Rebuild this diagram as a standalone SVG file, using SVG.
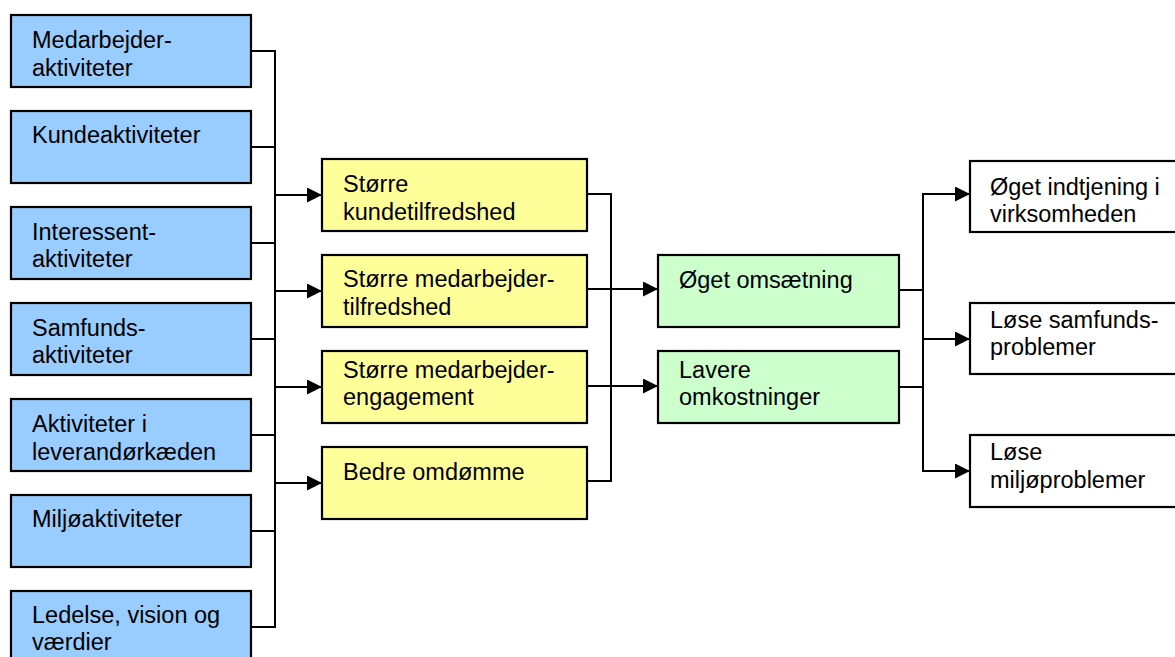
<svg xmlns="http://www.w3.org/2000/svg" width="1175" height="657" viewBox="0 0 1175 657">
<defs>
<style>
.box{stroke:#000;stroke-width:2.2}
.blue{fill:#99CCFF}
.yellow{fill:#FFFF99}
.green{fill:#CCFFCC}
.white{fill:#FFFFFF}
.t{font-family:"Liberation Sans",Arial,sans-serif;font-size:23.5px;fill:#000}
.c{fill:none;stroke:#000;stroke-width:2}
.a{fill:none;stroke:#000;stroke-width:2;marker-end:url(#ah)}
</style>
<marker id="ah" markerUnits="userSpaceOnUse" markerWidth="16" markerHeight="16" refX="15" refY="7.5" orient="auto">
<path d="M0,0 L15,7.5 L0,15 z" fill="#000"/>
</marker>
</defs>
<rect width="1175" height="657" fill="#fff"/>

<g id="connectors">
<path class="c" d="M251,51H275M251,147H275M251,243H275M251,339H275M251,435H275M251,531H275M251,627H275M275,50V628"/>
<path class="a" d="M275,195H322"/>
<path class="a" d="M275,291H322"/>
<path class="a" d="M275,387H322"/>
<path class="a" d="M275,483H322"/>
<path class="c" d="M587,194H611M587,481H611M611,193V482"/>
<path class="a" d="M587,289H658"/>
<path class="a" d="M587,386H658"/>
<path class="c" d="M899,290H923M899,387H923M923,193V472"/>
<path class="a" d="M923,194H970"/>
<path class="a" d="M923,339H970"/>
<path class="a" d="M923,471H970"/>
</g>

<g id="n-medarbejderaktiviteter"><rect class="box blue" x="11" y="15" width="240" height="72"/><text class="t" x="32" y="48">Medarbejder-</text><text class="t" x="32" y="76">aktiviteter</text></g>
<g id="n-kundeaktiviteter"><rect class="box blue" x="11" y="111" width="240" height="72"/><text class="t" x="32" y="143">Kundeaktiviteter</text></g>
<g id="n-interessentaktiviteter"><rect class="box blue" x="11" y="207" width="240" height="72"/><text class="t" x="32" y="240">Interessent-</text><text class="t" x="32" y="267">aktiviteter</text></g>
<g id="n-samfundsaktiviteter"><rect class="box blue" x="11" y="303" width="240" height="72"/><text class="t" x="32" y="336">Samfunds-</text><text class="t" x="32" y="363">aktiviteter</text></g>
<g id="n-leverandoer"><rect class="box blue" x="11" y="399" width="240" height="72"/><text class="t" x="32" y="432">Aktiviteter i</text><text class="t" x="32" y="460">leverandørkæden</text></g>
<g id="n-miljoeaktiviteter"><rect class="box blue" x="11" y="495" width="240" height="72"/><text class="t" x="32" y="527">Miljøaktiviteter</text></g>
<g id="n-ledelse"><rect class="box blue" x="11" y="591" width="240" height="72"/><text class="t" x="32" y="623">Ledelse, vision og</text><text class="t" x="32" y="650">værdier</text></g>

<g id="n-kundetilfredshed"><rect class="box yellow" x="322" y="159" width="265" height="72"/><text class="t" x="343" y="192">Større</text><text class="t" x="343" y="219.5">kundetilfredshed</text></g>
<g id="n-medarbejdertilfredshed"><rect class="box yellow" x="322" y="255" width="265" height="72"/><text class="t" x="343" y="287">Større medarbejder-</text><text class="t" x="343" y="314.5">tilfredshed</text></g>
<g id="n-engagement"><rect class="box yellow" x="322" y="351" width="265" height="72"/><text class="t" x="343" y="378">Større medarbejder-</text><text class="t" x="343" y="404.5">engagement</text></g>
<g id="n-omdoemme"><rect class="box yellow" x="322" y="447" width="265" height="72"/><text class="t" x="343" y="480">Bedre omdømme</text></g>

<g id="n-omsaetning"><rect class="box green" x="658" y="255" width="241" height="72"/><text class="t" x="679" y="288">Øget omsætning</text></g>
<g id="n-omkostninger"><rect class="box green" x="658" y="351" width="241" height="72"/><text class="t" x="679" y="378">Lavere</text><text class="t" x="679" y="404.5">omkostninger</text></g>

<g id="n-indtjening"><rect class="box white" x="970" y="161" width="220" height="71"/><text class="t" x="990" y="195">Øget indtjening i</text><text class="t" x="990" y="222">virksomheden</text></g>
<g id="n-samfundsproblemer"><rect class="box white" x="970" y="303" width="220" height="71"/><text class="t" x="990" y="327.5">Løse samfunds-</text><text class="t" x="990" y="355">problemer</text></g>
<g id="n-miljoeproblemer"><rect class="box white" x="970" y="435" width="220" height="72"/><text class="t" x="990" y="460">Løse</text><text class="t" x="990" y="488">miljøproblemer</text></g>
</svg>
